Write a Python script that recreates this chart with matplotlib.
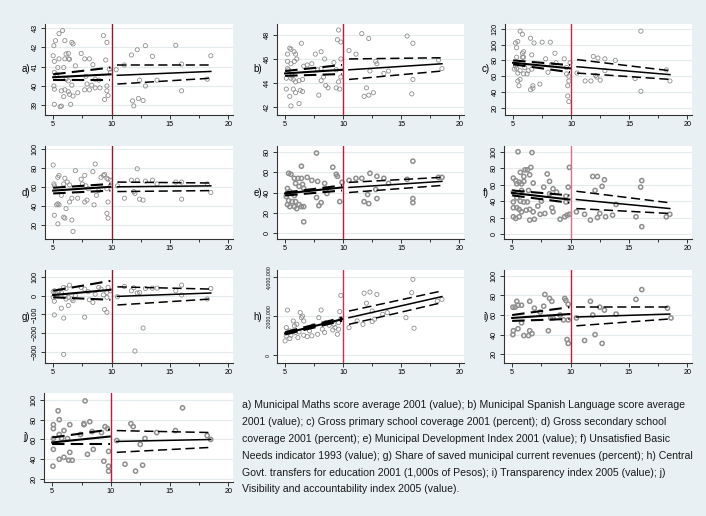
import matplotlib

matplotlib.use("Agg", force=True)
import matplotlib.pyplot as plt
from matplotlib.ticker import FuncFormatter

plt.rcParams["font.family"] = ["Liberation Sans", "DejaVu Sans"]

# x positions of the two fitted segments (start/end left of cutoff, start/end right)
fit_x = [5.0, 9.9, 10.5, 18.5]
cutoff = 10

# a) Maths score
a_x = [5.06, 5.2, 5.5, 5.8, 6.0, 5.0, 5.1, 5.5, 6.0, 6.1, 6.3, 6.6, 6.7, 6.4, 6.3, 7.4, 6.9, 5.4, 5.9,
       5.1, 5.3, 6.1, 6.3, 6.6, 5.06, 5.1, 5.7, 6.0, 6.3, 6.4, 5.9, 6.7, 7.1, 5.1, 5.6, 5.7, 6.5, 7.7,
       8.1, 8.4, 7.8, 7.9, 8.3, 8.6, 9.0, 7.7, 8.1, 9.3, 9.6, 9.5, 9.4, 9.6, 9.9, 9.8, 9.7, 9.6, 8.9,
       8.6, 10.4, 11.1, 11.7, 12.2, 12.9, 13.5, 13.9, 12.4, 12.9, 11.8, 11.9, 12.3, 12.7, 15.5, 16.0,
       16.0, 18.2, 18.5]
a_y = [42.08, 42.34, 42.7, 42.86, 42.34, 41.56, 41.27, 41.4, 41.4, 41.65, 41.68, 42.25, 42.17, 41.38,
       41.4, 41.68, 41.04, 40.95, 40.95, 40.7, 40.6, 40.35, 40.26, 40.04, 40.0, 39.83, 39.75, 39.8,
       39.7, 39.57, 39.45, 39.48, 39.65, 39.05, 38.93, 38.96, 39.05, 41.4, 41.4, 41.1, 40.5, 40.1,
       40.04, 39.9, 39.9, 39.8, 39.8, 42.6, 42.25, 41.34, 39.3, 39.75, 40.7, 40.87, 39.5, 40.0, 40.3,
       40.35, 40.84, 41.08, 41.6, 41.87, 42.08, 41.53, 40.3, 40.3, 40.0, 39.23, 38.97, 39.35, 39.25,
       42.1, 41.13, 39.75, 40.35, 41.56]
a_fit = [40.45, 40.6, 40.55, 40.75]
a_lo = [40.3, 40.3, 40.1, 40.4]
a_hi = [40.6, 40.95, 41.1, 41.1]

# b) Spanish Language score
b_x = [5.5, 5.2, 5.4, 5.77, 6.4, 5.2, 5.5, 5.9, 6.0, 5.8, 5.2, 5.3, 5.6, 5.1, 5.5, 5.7, 5.9, 6.2, 6.5,
       5.1, 5.7, 5.9, 6.3, 6.5, 5.4, 5.5, 6.2, 6.6, 6.9, 7.3, 7.6, 8.1, 8.4, 8.1, 7.8, 8.3, 8.5, 8.7,
       7.9, 8.1, 9.2, 9.5, 9.6, 9.8, 9.4, 9.7, 9.6, 9.8, 9.8, 9.4, 10.5, 11.1, 11.6, 12.2, 12.0, 11.8,
       12.2, 12.6, 12.3, 12.8, 12.9, 13.5, 13.9, 15.5, 16.0, 16.0, 15.9, 18.2, 18.5]
b_y = [46.8, 46.4, 46.9, 46.6, 47.3, 45.8, 45.6, 46.4, 46.0, 45.8, 45.2, 45.1, 44.6, 44.4, 44.4, 44.3,
       44.1, 44.2, 44.3, 43.5, 43.5, 43.2, 43.4, 43.3, 42.9, 42.1, 42.3, 45.4, 45.5, 45.6, 46.4, 46.6,
       46.0, 45.2, 45.1, 44.5, 43.8, 43.6, 43.0, 44.2, 45.7, 47.6, 48.4, 47.4, 43.6, 43.5, 44.1, 44.5,
       46.0, 45.1, 46.7, 46.4, 48.1, 47.7, 43.6, 42.9, 43.0, 43.2, 45.0, 45.8, 45.6, 44.8, 45.0, 47.9,
       47.3, 44.3, 43.1, 45.9, 45.2]
b_fit = [44.8, 45.1, 45.1, 45.6]
b_lo = [44.6, 44.75, 44.3, 45.0]
b_hi = [45.0, 45.5, 46.0, 46.1]

# c) Gross primary school coverage
c_x = [5.6, 5.8, 5.4, 5.2, 5.3, 5.9, 5.8, 5.8, 5.3, 6.5, 6.8, 7.5, 8.2, 6.6, 5.9, 5.2, 5.1, 5.3, 5.6,
       5.4, 5.9, 6.2, 6.3, 6.6, 6.0, 5.4, 5.6, 5.5, 6.5, 6.7, 6.7, 7.3, 7.8, 8.6, 8.3, 8.0, 8.7, 9.4,
       9.6, 9.6, 9.8, 9.7, 9.7, 9.8, 9.9, 9.8, 10.5, 11.2, 11.7, 11.9, 12.3, 12.5, 12.1, 12.2, 12.9,
       12.9, 13.8, 15.5, 16.0, 16.0, 18.2, 18.5]
c_y = [117, 113, 104, 102, 96, 91, 89, 84, 84, 108, 102, 103, 103, 87, 84, 73, 69, 70, 67, 64, 63, 63,
       67, 69, 71, 54, 56, 48, 43, 45, 48, 50, 82, 89, 75, 65, 77, 82, 71, 63, 54, 48, 35, 28, 77, 60,
       64, 54, 54, 85, 83, 55, 61, 59, 82, 67, 80, 57, 117, 41, 68, 54]
c_fit = [77, 70, 72, 62]
c_lo = [75, 65, 64, 56]
c_hi = [80, 74, 81, 67]

# d) Gross secondary school coverage
d_x = [5.0, 5.06, 5.1, 5.1, 5.4, 5.4, 5.3, 5.5, 5.5, 5.4, 5.7, 5.9, 6.0, 6.1, 5.9, 6.0, 6.2, 6.4, 6.4,
       6.6, 6.7, 6.9, 7.1, 6.6, 7.4, 7.5, 7.7, 7.8, 7.7, 7.9, 8.0, 8.4, 8.6, 8.5, 8.7, 8.9, 9.3, 9.4,
       9.1, 9.6, 9.7, 9.6, 9.6, 9.7, 9.7, 9.9, 9.9, 10.5, 11.1, 11.7, 12.2, 12.2, 11.9, 12.0, 12.4,
       12.7, 12.9, 13.5, 13.9, 15.5, 16.0, 16.0, 18.2, 18.5]
d_y = [83, 63, 61, 30, 21, 42, 41, 41, 72, 70, 51, 63, 69, 37, 28, 27, 65, 62, 44, 25, 13, 77, 48, 48,
       68, 63, 72, 61, 44, 46, 58, 76, 84, 41, 51, 56, 72, 73, 70, 69, 68, 58, 32, 27, 44, 67, 61, 61,
       48, 67, 79, 67, 55, 53, 47, 46, 66, 67, 63, 65, 65, 47, 63, 54]
d_fit = [56, 60, 60, 61]
d_lo = [53, 56, 55, 56]
d_hi = [59, 63, 65, 64]

# e) Municipal Development Index
e_x = [7.7, 6.4, 9.1, 9.4, 9.5, 5.3, 5.5, 5.8, 5.9, 6.1, 6.4, 6.9, 7.3, 7.8, 8.4, 6.5, 6.2, 6.6, 5.2,
       5.4, 5.6, 5.8, 5.1, 5.3, 5.6, 5.9, 6.2, 5.2, 5.4, 5.8, 6.0, 6.4, 6.6, 7.7, 8.1, 7.9, 8.6, 8.5,
       6.6, 9.7, 9.9, 10.5, 11.1, 11.6, 12.3, 12.9, 12.8, 12.1, 11.8, 12.2, 12.9, 13.5, 13.9, 15.5,
       16.0, 16.0, 16.0, 18.2, 18.5]
e_y = [79, 66, 65, 58, 56, 59, 58, 54, 49, 54, 54, 55, 52, 51, 49, 48, 46, 44, 44, 41, 39, 37, 36, 32,
       31, 31, 28, 28, 26, 26, 24, 26, 26, 35, 30, 27, 39, 43, 11, 31, 50, 52, 54, 54, 59, 56, 43, 38,
       31, 29, 34, 54, 49, 53, 71, 34, 30, 55, 55]
e_fit = [39, 45, 45, 51]
e_lo = [37, 42, 40, 47]
e_hi = [40, 47, 50, 55]

# f) Unsatisfied Basic Needs indicator
f_x = [5.5, 6.7, 6.6, 5.7, 6.0, 6.5, 6.1, 5.1, 5.3, 5.4, 5.6, 5.8, 6.0, 6.3, 6.8, 6.4, 5.8, 5.1, 5.4,
       5.7, 6.0, 6.3, 5.1, 5.1, 5.4, 5.6, 5.8, 6.2, 6.5, 6.8, 5.1, 5.3, 5.6, 6.5, 6.9, 7.4, 7.2, 7.5,
       7.7, 8.0, 8.2, 7.8, 8.4, 8.5, 8.5, 8.8, 8.2, 9.1, 9.5, 9.7, 9.6, 9.6, 9.8, 9.9, 9.9, 10.5, 11.2,
       11.7, 11.9, 12.3, 12.1, 12.5, 12.3, 12.9, 12.7, 13.0, 13.6, 13.9, 15.6, 16.0, 16.1, 16.1, 18.2,
       18.5]
f_y = [100, 99, 81, 75, 70, 72, 78, 68, 65, 61, 63, 61, 64, 78, 62, 53, 53, 51, 44, 40, 39, 39, 39, 32,
       32, 30, 27, 29, 30, 27, 21, 19, 21, 17, 18, 24, 34, 40, 57, 73, 64, 25, 32, 27, 55, 51, 49, 18,
       21, 23, 46, 39, 57, 81, 24, 27, 24, 17, 70, 70, 53, 25, 20, 66, 58, 21, 23, 36, 21, 57, 65, 9,
       21, 24]
f_fit = [50, 42, 42, 31]
f_lo = [47, 38, 31, 25]
f_hi = [53, 47, 52, 38]

# g) Share of saved municipal current revenues
g_x = [5.0, 5.1, 5.5, 5.9, 6.1, 6.4, 5.7, 5.3, 5.0, 5.1, 6.0, 6.1, 6.3, 6.6, 6.7, 6.9, 7.4, 7.7, 8.0,
       8.1, 8.4, 8.6, 8.9, 9.1, 9.3, 9.6, 9.6, 9.7, 9.9, 9.4, 9.6, 5.7, 5.1, 6.3, 5.9, 7.7, 5.9, 10.5,
       11.1, 11.7, 11.9, 12.2, 12.4, 12.9, 13.5, 13.9, 15.5, 16.0, 16.0, 18.2, 18.5, 12.7, 12.0]
g_y = [21, 26, 26, 44, 38, 56, 17, 3, -9, -30, 0, -18, -9, -18, -27, 0, 44, 35, 21, -22, -36, 8, 44,
       35, 4, 17, -9, 44, 26, -74, -89, -67, -103, -53, -120, -115, -314, -6, 49, 26, 42, 14, 17, 38,
       40, 40, 26, 56, 3, -18, 38, -173, -296]
g_fit = [3, 31, -4, 14]
g_lo = [-9, -22, -50, -18]
g_hi = [26, 79, 47, 35]

# h) Central Govt. transfers for education (1,000s of Pesos)
h_x = [5.0, 5.1, 5.1, 5.2, 5.4, 5.5, 5.7, 5.7, 5.8, 6.0, 6.1, 6.2, 6.3, 6.4, 6.5, 6.6, 6.6, 6.9, 7.1,
       7.3, 7.4, 7.9, 7.8, 8.1, 8.2, 8.4, 8.5, 8.8, 9.1, 9.2, 9.3, 9.5, 9.6, 9.7, 9.8, 9.6, 9.8, 5.9,
       5.4, 10.5, 11.2, 11.7, 11.8, 12.0, 12.3, 12.5, 12.5, 12.9, 12.7, 13.4, 13.8, 15.4, 15.9, 16.0,
       16.1, 18.1, 18.5]
h_y = [730000, 990000, 1410000, 2310000, 850000, 1020000, 1240000, 1750000, 1500000, 1580000,
       900000, 1190000, 2180000, 1920000, 2000000, 1750000, 1020000, 950000, 1240000, 990000,
       1500000, 1920000, 1070000, 2310000, 1330000, 1160000, 1670000, 1530000, 1290000, 1580000,
       1410000, 1070000, 1330000, 2230000, 3060000, 1670000, 1870000, 1160000, 1240000, 1410000,
       1750000, 1580000, 3170000, 2660000, 3230000, 2260000, 1720000, 3110000, 1840000, 2090000,
       2180000, 1920000, 3200000, 3880000, 1380000, 2770000, 2860000]
h_fit = [1120000, 1840000, 1920000, 3000000]
h_lo = [1060000, 1760000, 1580000, 2690000]
h_hi = [1180000, 1920000, 2260000, 3290000]

# i) Transparency index
i_x = [5.06, 5.25, 5.4, 5.5, 5.8, 5.8, 5.5, 5.1, 5.06, 6.0, 6.4, 6.5, 6.7, 6.5, 6.9, 7.4, 7.7, 7.8, 8.2,
       8.4, 8.1, 8.3, 8.5, 9.1, 9.4, 9.5, 9.6, 9.8, 9.7, 9.8, 9.8, 10.5, 11.7, 11.9, 12.1, 12.5, 12.7,
       12.9, 11.2, 13.9, 15.6, 16.1, 18.3, 18.6]
i_y = [68, 68, 74, 70, 70, 52, 46, 44, 40, 39, 39, 44, 41, 74, 67, 63, 69, 81, 77, 74, 44, 57, 57, 60,
       55, 77, 75, 71, 35, 31, 55, 57, 74, 60, 40, 68, 31, 65, 34, 61, 76, 86, 67, 57]
i_fit = [57, 61, 58, 61]
i_lo = [54, 56, 49, 56]
i_hi = [60, 68, 68, 68]

# j) Visibility and accountability index
j_x = [7.8, 5.5, 5.6, 5.1, 5.1, 6.0, 5.6, 5.1, 6.5, 5.8, 6.3, 5.1, 5.6, 6.0, 6.4, 6.7, 6.5, 5.06, 7.7,
       7.7, 8.2, 7.4, 8.4, 8.0, 8.5, 9.2, 9.5, 9.4, 9.8, 9.8, 9.8, 9.7, 10.5, 11.7, 11.9, 11.2, 12.1,
       12.5, 12.7, 12.9, 13.9, 15.5, 16.1, 18.2, 18.5]
j_y = [99, 89, 80, 75, 71, 69, 65, 61, 75, 61, 61, 50, 40, 42, 39, 39, 47, 33, 75, 76, 78, 65, 68, 45,
       50, 67, 73, 38, 28, 33, 48, 71, 59, 76, 73, 35, 28, 55, 34, 61, 67, 69, 92, 64, 60]
j_fit = [57, 63, 58, 60]
j_lo = [55, 55, 47, 52]
j_hi = [62, 70, 69, 67]

panel_labels = ["a)", "b)", "c)", "d)", "e)", "f)", "g)", "h)", "i)", "j)"]
y_ticks = [
    [39, 40, 41, 42, 43],
    [42, 44, 46, 48],
    [20, 40, 60, 80, 100, 120],
    [20, 40, 60, 80, 100],
    [0, 20, 40, 60, 80],
    [0, 20, 40, 60, 80, 100],
    [-300, -200, -100, 0, 100],
    [0, 2000000, 4000000],
    [20, 40, 60, 80, 100],
    [20, 40, 60, 80, 100],
]
y_lims = [
    (38.5, 43.2), (41.35, 48.9), (11, 126), (5, 103), (-6, 86),
    (-6, 107), (-360, 137), (-400000, 4360000), (11, 106), (17, 107),
]

caption = (
    "a) Municipal Maths score average 2001 (value); b) Municipal Spanish Language score average\n"
    "2001 (value); c) Gross primary school coverage 2001 (percent); d) Gross secondary school\n"
    "coverage 2001 (percent); e) Municipal Development Index 2001 (value); f) Unsatisfied Basic\n"
    "Needs indicator 1993 (value); g) Share of saved municipal current revenues (percent); h) Central\n"
    "Govt. transfers for education 2001 (1,000s of Pesos); i) Transparency index 2005 (value); j)\n"
    "Visibility and accountability index 2005 (value)."
)

BG = "#e9f0f3"
W, H = 706, 516

# axes boxes in pixels: left, top, right, bottom
boxes = [
    (45, 24, 233, 115), (277, 24, 464, 115), (505, 24, 692, 115),
    (45, 146, 233, 239), (277, 146, 464, 239), (504, 146, 692, 239),
    (45, 270, 233, 363), (277, 270, 464, 363), (504, 270, 692, 363),
    (44, 393, 233, 482),
]
cut_colors = ["#8c1d2e", "#c4183c", "#cf2348", "#8c1d2e", "#c4183c",
              "#e0708a", "#8c1d2e", "#d9285a", "#c4183c", "#c4183c"]
marker_lw = [0.6, 0.6, 0.6, 0.6, 1.1, 1.1, 0.6, 0.6, 1.1, 1.1]


def draw_panel(fig, k, xs, ys, fit, lo, hi):
    l, t, r, b = boxes[k]
    ax = fig.add_axes([l / W, 1 - b / H, (r - l) / W, (b - t) / H])
    ax.set_facecolor("white")
    ax.set_xlim(4.3, 20.4)
    ax.set_ylim(*y_lims[k])
    for yv in y_ticks[k]:
        ax.axhline(yv, color="#e4ebef", lw=0.8, zorder=0)

    ax.scatter(xs, ys, s=9, facecolors="none", edgecolors="#8f8f8f",
               linewidths=marker_lw[k], zorder=2)
    ax.axvline(cutoff, color=cut_colors[k], lw=1.0, zorder=3)

    for n, seg in enumerate((slice(0, 2), slice(2, 4))):
        fx = fit_x[seg]
        lw = 1.5 if n == 0 else 1.1
        ax.plot(fx, fit[seg], color="black", lw=lw, zorder=4)
        ax.plot(fx, lo[seg], color="black", lw=lw, dashes=(6, 3), zorder=4)
        ax.plot(fx, hi[seg], color="black", lw=lw, dashes=(6, 3), zorder=4)

    ax.set_xticks([5, 10, 15, 20])
    ax.set_xticks([7.5, 12.5, 17.5], minor=True)
    ax.set_yticks(y_ticks[k])
    if k == 7:
        ax.yaxis.set_major_formatter(FuncFormatter(lambda v, p: f"{v:,.0f}"))
    ax.tick_params(axis="both", which="major", labelsize=5.2, length=3, width=0.7,
                   color="#333333", pad=1.5)
    ax.tick_params(axis="x", which="minor", length=2, width=0.7, color="#333333")
    for lab in ax.get_yticklabels():
        lab.set_rotation(90)
        lab.set_va("center")
        if k == 7:
            lab.set_fontsize(3.8)
    for side in ("top", "right"):
        ax.spines[side].set_visible(False)
    for side in ("left", "bottom"):
        ax.spines[side].set_color("#333333")
        ax.spines[side].set_linewidth(0.8)

    fig.text((l - 15) / W, 1 - ((t + b) / 2) / H, panel_labels[k],
             ha="right", va="center", fontsize=7)
    return ax


def main():
    fig = plt.figure(figsize=(W / 100, H / 100), dpi=100, facecolor=BG)
    panels = [
        (a_x, a_y, a_fit, a_lo, a_hi),
        (b_x, b_y, b_fit, b_lo, b_hi),
        (c_x, c_y, c_fit, c_lo, c_hi),
        (d_x, d_y, d_fit, d_lo, d_hi),
        (e_x, e_y, e_fit, e_lo, e_hi),
        (f_x, f_y, f_fit, f_lo, f_hi),
        (g_x, g_y, g_fit, g_lo, g_hi),
        (h_x, h_y, h_fit, h_lo, h_hi),
        (i_x, i_y, i_fit, i_lo, i_hi),
        (j_x, j_y, j_fit, j_lo, j_hi),
    ]
    for k, p in enumerate(panels):
        draw_panel(fig, k, *p)

    fig.text(242 / W, 1 - 400 / H, caption, ha="left", va="top", fontsize=7.55,
             linespacing=1.86, color="#1a1a1a")
    fig.savefig("out.png", dpi=100, facecolor=BG)
    plt.close(fig)


if __name__ == "__main__":
    main()
